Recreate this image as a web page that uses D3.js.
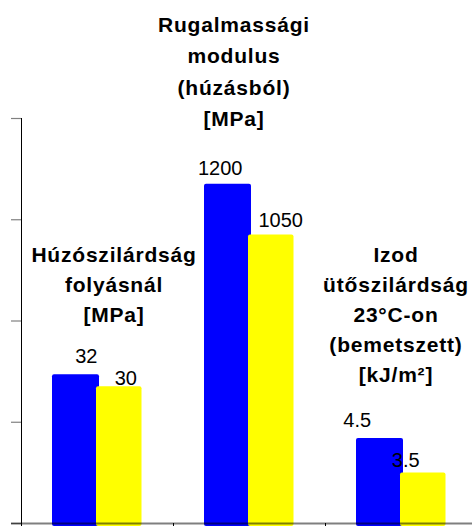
<!DOCTYPE html>
<html>
<head>
<meta charset="utf-8">
<script src="https://cdn.jsdelivr.net/npm/d3@7"></script>
<style>
  body{margin:0;background:#fff;}
  svg{display:block;font-family:"Liberation Sans",Arial,sans-serif;}
  .ttl{font-weight:bold;font-size:21px;letter-spacing:0.8px;fill:#000;}
  .val{font-size:20px;fill:#000;}
</style>
</head>
<body>
<div id="chart"></div>
<script>
// data
const categories=['Húzószilárdság','Rugalmassági modulus','Izod ütőszilárdság'];
const titleLines=[
  ['Húzószilárdság','folyásnál','[MPa]'],
  ['Rugalmassági','modulus','(húzásból)','[MPa]'],
  ['Izod','ütőszilárdság','23°C-on','(bemetszett)','[kJ/m²]']
];
const series=['blue','yellow'];
const blueHeights=[1.47,3.35,0.84];
const yellowHeights=[1.35,2.85,0.50];
const blueLabels=['32','1200','4.5'];
const yellowLabels=['30','1050','3.5'];
const yTicks=[0,1,2,3,4];

(() => {
  const W=472,H=526;
  const colors={blue:'#0000ff',yellow:'#ffff00'};
  // manual placements like in the source sheet
  const titlePos=[{dx:17,y:262},{dx:-15,y:32},{dx:-5,y:262}];
  const lineH=[30,31.3,30];
  const labelNudge={blue:[[12,11],[-6,9],[-21,11]],yellow:[[7,1],[10,7],[-17,5]]};

  const svg=d3.select('#chart').append('svg').attr('width',W).attr('height',H);
  const x=d3.scaleBand().domain(categories).range([21,477]);
  const x1=d3.scaleBand().domain(series).range([31,120]);
  const y=d3.scaleLinear().domain([0,4]).range([523,118]);

  const rows=categories.map((c,i)=>({cat:c,i,blue:blueHeights[i],yellow:yellowHeights[i],blueL:blueLabels[i],yellowL:yellowLabels[i]}));

  // left axis
  const ax=svg.append('g').attr('transform','translate(21,0)')
    .call(d3.axisLeft(y).tickValues(yTicks).tickSize(10).tickSizeOuter(0).tickFormat(''));
  ax.select('.domain').remove();
  ax.selectAll('.tick line').attr('stroke','#808080').attr('stroke-width',1.2);
  svg.append('line').attr('x1',21.5).attr('x2',21.5).attr('y1',y(4)).attr('y2',526).attr('stroke','#000').attr('stroke-width',1);

  // bars
  series.forEach(s=>{
    svg.selectAll(`.bar-${s}`).data(rows).join('rect').attr('class',`bar-${s}`)
      .attr('x',d=>x(d.cat)+x1(s)-(s==='blue'?0:0.5))
      .attr('y',d=>y(d[s]))
      .attr('width',x1.bandwidth()+(s==='blue'?2.5:1))
      .attr('height',d=>y(0)-y(d[s])+3)
      .attr('rx',2)
      .attr('fill',colors[s]);
  });

  // bottom axis
  svg.append('line').attr('x1',11).attr('x2',W).attr('y1',523.5).attr('y2',523.5).attr('stroke','rgba(0,0,0,0.5)').attr('stroke-width',2);
  svg.selectAll('.sep').data(categories).join('line').attr('class','sep')
    .attr('x1',d=>x(d)+0.5).attr('x2',d=>x(d)+0.5).attr('y1',523).attr('y2',526).attr('stroke','#000');

  // value labels
  series.forEach(s=>{
    svg.selectAll(`.val-${s}`).data(rows).join('text').attr('class',`val val-${s}`)
      .attr('text-anchor','middle')
      .attr('x',d=>x(d.cat)+x1(s)+x1.bandwidth()/2+labelNudge[s][d.i][0])
      .attr('y',d=>y(d[s])-labelNudge[s][d.i][1])
      .text(d=>d[s+'L']);
  });

  // category titles
  categories.forEach((c,i)=>{
    const t=svg.append('text').attr('class','ttl').attr('text-anchor','middle');
    titleLines[i].forEach((ln,j)=>{
      t.append('tspan').attr('x',x(c)+x.bandwidth()/2+titlePos[i].dx).attr('y',titlePos[i].y+j*lineH[i]).text(ln);
    });
  });
})();
</script>
</body>
</html>
